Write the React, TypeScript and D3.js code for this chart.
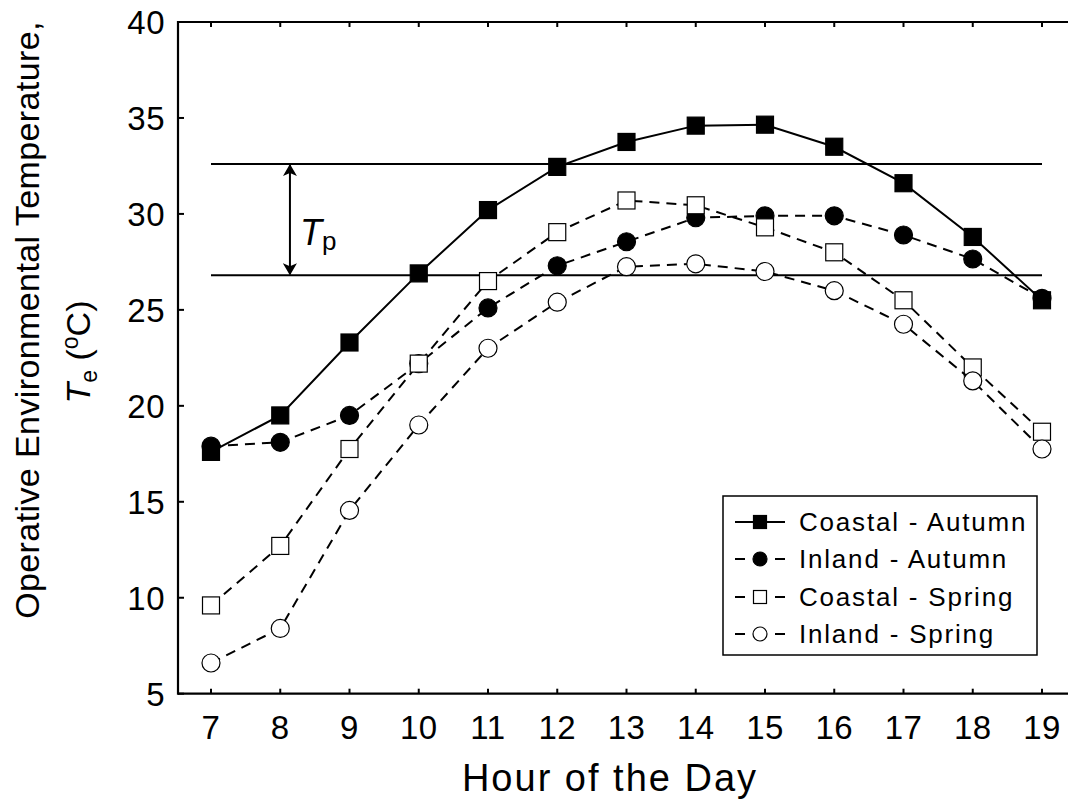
import React from "react";
import * as d3 from "d3";

const hours = [7, 8, 9, 10, 11, 12, 13, 14, 15, 16, 17, 18, 19];
const coastalAutumn = [17.6, 19.5, 23.3, 26.9, 30.2, 32.45, 33.75, 34.6, 34.65, 33.5, 31.6, 28.8, 25.5];
const inlandAutumn = [17.9, 18.1, 19.5, 22.2, 25.1, 27.3, 28.55, 29.8, 29.9, 29.9, 28.9, 27.65, 25.6];
const coastalSpring = [9.6, 12.7, 17.75, 22.2, 26.5, 29.05, 30.7, 30.45, 29.3, 28.0, 25.5, 22.0, 18.65];
const inlandSpring = [6.6, 8.4, 14.55, 19.0, 23.0, 25.4, 27.25, 27.4, 27.0, 26.0, 24.25, 21.3, 17.75];
const yTicks = [5, 10, 15, 20, 25, 30, 35, 40];
const tpUpper = 32.6;
const tpLower = 26.8;
const tpArrowHour = 8.14;

const seriesNames = ["Coastal - Autumn", "Inland - Autumn", "Coastal - Spring", "Inland - Spring"];

type Series = { name: string; values: number[]; marker: "square" | "circle"; fill: string; dashed: boolean };

const series: Series[] = [
  { name: seriesNames[0], values: coastalAutumn, marker: "square", fill: "#000", dashed: false },
  { name: seriesNames[1], values: inlandAutumn, marker: "circle", fill: "#000", dashed: true },
  { name: seriesNames[2], values: coastalSpring, marker: "square", fill: "#fff", dashed: true },
  { name: seriesNames[3], values: inlandSpring, marker: "circle", fill: "#fff", dashed: true },
];
const drawOrder = [1, 0, 2, 3];

const FONT = "'Liberation Sans', Arial, Helvetica, sans-serif";

export default function App() {
  const left = 178;
  const right = 1068;
  const top = 22;
  const bottom = 693.7;
  const x = d3.scaleLinear().domain([7, 19]).range([211, 1042]);
  const y = d3.scaleLinear().domain([5, 40]).range([bottom, top]);

  const line = d3
    .line<number>()
    .x((_, i) => x(hours[i]))
    .y((d) => y(d));

  const marker = (s: Series, cx: number, cy: number, size: number, key: string) =>
    s.marker === "square" ? (
      <rect key={key} x={cx - size / 2} y={cy - size / 2} width={size} height={size} fill={s.fill} stroke="#000" strokeWidth={1.2} />
    ) : (
      <circle key={key} cx={cx} cy={cy} r={size / 2 + 0.5} fill={s.fill} stroke="#000" strokeWidth={1.2} />
    );

  const lgX = 723, lgY = 496, lgW = 314, lgH = 159;
  const rowY = [522, 559, 597, 634];

  return (
    <svg width={1068} height={803} style={{ position: "absolute", left: 0, top: 0, background: "#fff" }} fontFamily={FONT}>
      <rect x={0} y={0} width={1068} height={803} fill="#fff" />
      <defs>
        <marker id="ah" viewBox="0 0 12 14" refX="11" refY="7" markerWidth="12" markerHeight="14" markerUnits="userSpaceOnUse" orient="auto-start-reverse">
          <path d="M0,0 L12,7 L0,14 L3,7 Z" fill="#000" />
        </marker>
      </defs>

      {/* axes */}
      <line x1={left} x2={left} y1={top - 1} y2={bottom + 1} stroke="#000" strokeWidth={2.2} />
      <line x1={left} x2={right} y1={top} y2={top} stroke="#000" strokeWidth={2.2} />
      <line x1={left} x2={right} y1={bottom} y2={bottom} stroke="#000" strokeWidth={2.2} />
      {yTicks.map((t) => (
        <g key={"yt" + t}>
          <line x1={left} x2={left + 6} y1={y(t)} y2={y(t)} stroke="#000" strokeWidth={2} />
          <text x={165} y={y(t) + 12} textAnchor="end" fontSize={33} letterSpacing={0.5}>
            {t}
          </text>
        </g>
      ))}
      {hours.map((h) => (
        <g key={"xt" + h}>
          <line x1={x(h)} x2={x(h)} y1={bottom} y2={bottom - 5} stroke="#000" strokeWidth={2} />
          <line x1={x(h)} x2={x(h)} y1={top} y2={top + 5} stroke="#000" strokeWidth={2} />
          <text x={x(h)} y={739} textAnchor="middle" fontSize={33} letterSpacing={0.5}>
            {h}
          </text>
        </g>
      ))}

      {/* axis titles */}
      <text x={610} y={791} textAnchor="middle" fontSize={38} letterSpacing={2}>
        Hour of the Day
      </text>
      <text transform={`translate(39,320) rotate(-90)`} textAnchor="middle" fontSize={34} letterSpacing={0.4}>
        Operative Environmental Temperature,
      </text>
      <text transform={`translate(90,352) rotate(-90)`} textAnchor="middle" fontSize={34}>
        <tspan fontStyle="italic">T</tspan>
        <tspan fontSize={23} dy={7}>e</tspan>
        <tspan dy={-7}> (</tspan>
        <tspan fontSize={23} dy={-12}>o</tspan>
        <tspan dy={12}>C)</tspan>
      </text>

      {/* Tp band */}
      <line x1={x(7)} x2={x(19)} y1={y(tpUpper)} y2={y(tpUpper)} stroke="#000" strokeWidth={2} />
      <line x1={x(7)} x2={x(19)} y1={y(tpLower)} y2={y(tpLower)} stroke="#000" strokeWidth={2} />
      <line
        x1={x(tpArrowHour)}
        x2={x(tpArrowHour)}
        y1={y(tpUpper) + 1}
        y2={y(tpLower) - 1}
        stroke="#000"
        strokeWidth={2}
        markerStart="url(#ah)"
        markerEnd="url(#ah)"
      />
      <text x={300} y={245} fontSize={36}>
        <tspan fontStyle="italic">T</tspan>
        <tspan fontSize={26} dy={5}>p</tspan>
      </text>

      {/* series */}
      {drawOrder.map((idx) => {
        const s = series[idx];
        return (
          <g key={s.name}>
            <path d={line(s.values) || ""} fill="none" stroke="#000" strokeWidth={2} strokeDasharray={s.dashed ? "10,7" : undefined} />
            {s.values.map((v, i) => marker(s, x(hours[i]), y(v), 17, s.name + i))}
          </g>
        );
      })}

      {/* legend */}
      <rect x={lgX} y={lgY} width={lgW} height={lgH} fill="#fff" stroke="#000" strokeWidth={1.5} />
      {series.map((s, i) => (
        <g key={"lg" + i}>
          {s.dashed ? (
            <>
              <line x1={735} x2={745} y1={rowY[i]} y2={rowY[i]} stroke="#000" strokeWidth={2} />
              <line x1={775} x2={785} y1={rowY[i]} y2={rowY[i]} stroke="#000" strokeWidth={2} />
            </>
          ) : (
            <line x1={735} x2={785} y1={rowY[i]} y2={rowY[i]} stroke="#000" strokeWidth={2} />
          )}
          {marker(s, 760, rowY[i], 13, "lm" + i)}
          <text x={799} y={rowY[i] + 9} fontSize={26} letterSpacing={1.8}>
            {s.name}
          </text>
        </g>
      ))}
    </svg>
  );
}
